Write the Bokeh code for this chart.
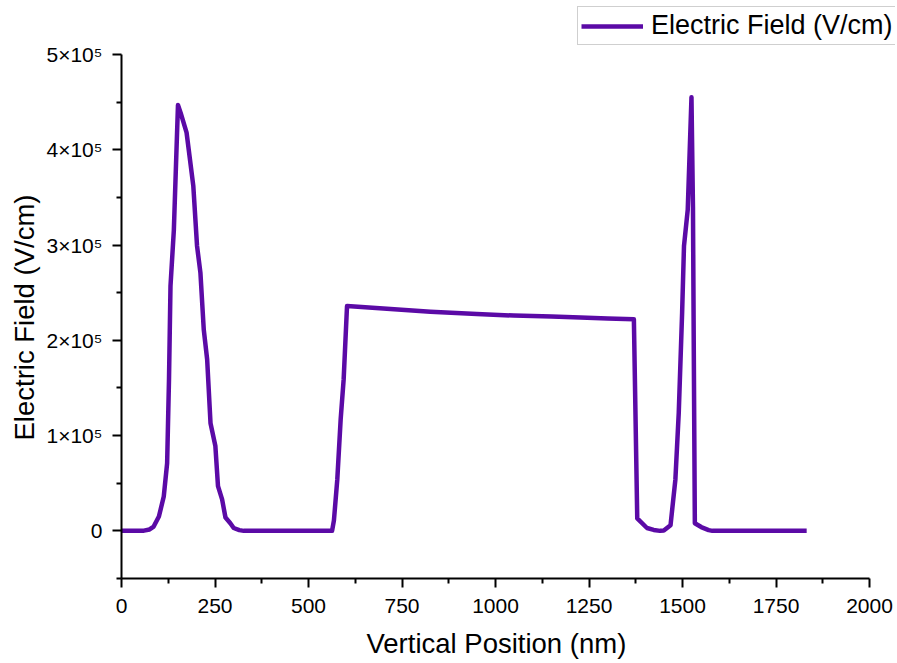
from bokeh.plotting import figure
from bokeh.models import FixedTicker, Legend, LegendItem, Range1d, Title
from bokeh.embed import file_html
from bokeh.resources import INLINE

# Data
position_nm = [0, 20, 40, 60, 75, 86, 100, 113, 122, 127, 131, 140, 151, 158, 174,
               192, 202, 211, 220, 229, 238, 251, 258, 269, 278, 291, 300, 315, 327,
               400, 500, 563, 568, 577, 586, 594, 603, 700, 826, 950, 1049, 1150,
               1227, 1300, 1370, 1379, 1405, 1423, 1440, 1450, 1468, 1481, 1490,
               1499, 1504, 1514, 1524, 1528, 1530, 1533, 1550, 1570, 1580, 1700, 1832]
field_v_cm = [0, 0, 0, 200, 1500, 4500, 15000, 36000, 71000, 159000, 257000, 316000,
              447000, 439000, 418000, 362000, 299000, 271000, 211000, 180000, 113000,
              89000, 47000, 33000, 14000, 8000, 3000, 800, 0,
              0, 0, 0, 11000, 54000, 117000, 159000, 236000, 233500, 230000, 227500,
              226000, 225000, 224000, 223000, 222000, 13000, 3000, 1000, 0, 300, 6000,
              54000, 124000, 229000, 299000, 337000, 455000, 340000, 200000, 8000,
              4000, 800, 0, 0, 0]

x_ticks = [0, 250, 500, 750, 1000, 1250, 1500, 1750, 2000]
x_minor = [125, 375, 625, 875, 1125, 1375, 1625, 1875]
y_ticks = [0, 100000, 200000, 300000, 400000, 500000]
y_minor = [-50000, 50000, 150000, 250000, 350000, 450000]
y_labels = ["0", "1×10⁵", "2×10⁵", "3×10⁵", "4×10⁵", "5×10⁵"]
x_axis_span = (0, 2000)
y_axis_span = (-50000, 500000)
x_title = "Vertical Position (nm)"
y_title = "Electric Field (V/cm)"
series_name = "Electric Field (V/cm)"

FONT = "Liberation Sans"
COLOR = "#5B0AA6"

# The axes cover 748 x 524 px; the frame is extended up and right so that the
# legend (which sits above/right of the axes) is drawn inside the frame.
AX_W, AX_H = 748, 524
FR_W, FR_H = 774, 577
x_end = x_axis_span[0] + (x_axis_span[1] - x_axis_span[0]) * FR_W / AX_W
y_end = y_axis_span[0] + (y_axis_span[1] - y_axis_span[0]) * FR_H / AX_H

p = figure(frame_width=FR_W, frame_height=FR_H, width=896, height=660,
           min_border_left=121, min_border_right=1, min_border_top=1,
           min_border_bottom=82, output_backend="svg", toolbar_location=None,
           x_range=Range1d(x_axis_span[0], x_end),
           y_range=Range1d(y_axis_span[0], y_end))
p.outline_line_color = None
p.grid.visible = False

r = p.line(position_nm, field_v_cm, line_color=COLOR, line_width=4.5,
           line_join="round")

for ax in (p.xaxis[0], p.yaxis[0]):
    ax.axis_line_width = 2
    ax.axis_line_color = "black"
    ax.major_tick_line_width = 2
    ax.minor_tick_line_width = 2
    ax.major_tick_in = 0
    ax.minor_tick_in = 0
    ax.major_tick_out = 9
    ax.minor_tick_out = 5
    ax.major_label_text_font = FONT
    ax.major_label_text_font_size = "21px"
    ax.major_label_text_color = "black"

p.xaxis.bounds = x_axis_span
p.yaxis.bounds = y_axis_span
p.xaxis.ticker = FixedTicker(ticks=x_ticks, minor_ticks=x_minor)
p.yaxis.ticker = FixedTicker(ticks=y_ticks, minor_ticks=y_minor)
p.yaxis.major_label_overrides = {t: l for t, l in zip(y_ticks, y_labels)}
p.xaxis.major_label_standoff = 11
p.yaxis.major_label_standoff = 10

# Axis titles, placed along the axes' span rather than the extended frame
xt = Title(text=x_title, align="left", offset=245, standoff=21,
           text_font=FONT, text_font_size="27.5px", text_font_style="normal",
           text_color="black")
yt = Title(text=y_title, align="left", offset=138, standoff=8,
           text_font=FONT, text_font_size="27.5px", text_font_style="normal",
           text_color="black")
p.add_layout(xt, "below")
p.add_layout(yt, "left")

legend = Legend(items=[LegendItem(label=series_name, renderers=[r])],
                location=(456, 533))
legend.label_text_font = FONT
legend.label_text_font_size = "27px"
legend.label_text_color = "black"
legend.glyph_width = 62
legend.glyph_height = 26
legend.label_standoff = 8
legend.padding = 3
legend.margin = 0
legend.spacing = 0
legend.border_line_color = "#a0a0a0"
legend.border_line_width = 1
legend.background_fill_alpha = 1
p.add_layout(legend, "center")

open("out.html", "w").write(file_html(p, INLINE))
